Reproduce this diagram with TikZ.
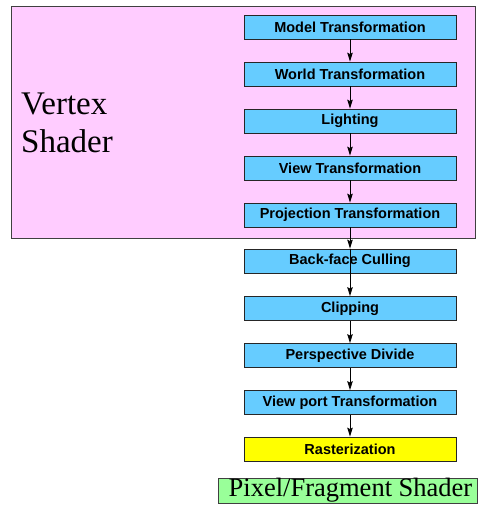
\documentclass[tikz,border=0pt]{standalone}
\usepackage{fontspec}
\setmainfont{Liberation Serif}
\setsansfont{Liberation Sans}
\usetikzlibrary{arrows.meta}
\definecolor{shadercolor}{RGB}{255,204,255}
\definecolor{stagecolor}{RGB}{102,204,255}
\definecolor{rastercolor}{RGB}{255,255,0}
\definecolor{pixelcolor}{RGB}{153,255,153}
\newcommand{\stagex}{350}
\newcommand{\stagewid}{212}
\newcommand{\stagehei}{24}

\begin{document}
\begin{tikzpicture}[x=1pt, y=-1pt, >={Stealth[length=9pt,width=5.5pt,inset=1.5pt]},
    stagebox/.style={draw=black!85, line width=0.8pt, fill=stagecolor, minimum width=\stagewid pt,
        minimum height=\stagehei pt, inner sep=0pt, font=\sffamily\bfseries\fontsize{14.5}{17}\selectfont},
    flow/.style={->, line width=0.8pt}]
        \useasboundingbox (0, 0) rectangle (478, 506);
        
        % vertex shader region
        \fill[shadercolor] (11, 6) rectangle (475, 238);
        \draw[black!75, line width=0.8pt] (11, 6) rectangle (475, 238);
        \node[anchor=north west, inner sep=0pt, align=left, font=\fontsize{33}{38}\selectfont] (vertex) at (21, 93) {Vertex\\Shader};
        
        % stages
        \node[stagebox] (model) at (\stagex, 27) {Model Transformation};
        \node[stagebox] (world) at (\stagex, 74) {World Transformation};
        \node[stagebox] (light) at (\stagex, 121) {Lighting};
        \node[stagebox] (view) at (\stagex, 168) {View Transformation};
        \node[stagebox] (proj) at (\stagex, 215) {Projection Transformation};
        \node[stagebox] (cull) at (\stagex, 261) {Back-face Culling};
        \node[stagebox] (clip) at (\stagex, 308.5) {Clipping};
        \node[stagebox] (persp) at (\stagex, 355.5) {Perspective Divide};
        \node[stagebox] (port) at (\stagex, 402.5) {View port Transformation};
        \node[stagebox, fill=rastercolor] (raster) at (\stagex, 449) {Rasterization};
        
        % pixel shader
        \node[draw=black!75, line width=0.8pt, fill=pixelcolor, minimum width=259pt, minimum height=25pt,
            inner sep=0pt, font=\fontsize{26.5}{30}\selectfont] (pixel) at (347.5, 490.5) {\hspace{6pt}Pixel/Fragment Shader};
        
        % arrows
        \draw[flow] (model) -- (world);
        \draw[flow] (world) -- (light);
        \draw[flow] (light) -- (view);
        \draw[flow] (view) -- (proj);
        \draw[flow] (proj) -- (cull);
        \draw[flow] (cull.north) -- (clip);
        \draw[flow] (clip) -- (persp);
        \draw[flow] (persp) -- (port);
        \draw[flow] (port) -- (raster);
    \end{tikzpicture}
\end{document}
